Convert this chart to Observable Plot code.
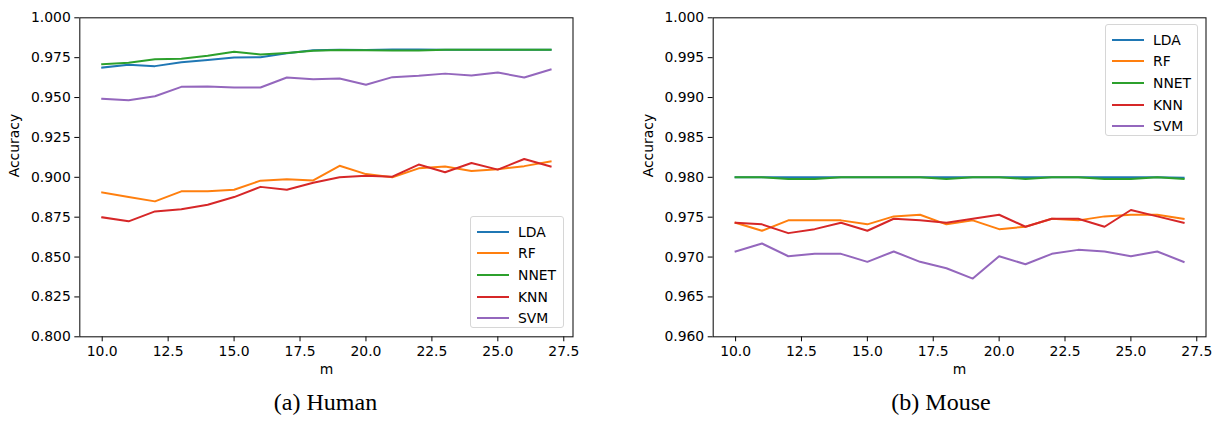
<!DOCTYPE html>
<html>
<head>
<meta charset="utf-8">
<script src="https://cdn.jsdelivr.net/npm/d3@7"></script>
<script src="https://cdn.jsdelivr.net/npm/@observablehq/plot@0.6"></script>
<style>
  html, body { margin: 0; padding: 0; background: #fff; }
  #root { position: relative; width: 1221px; height: 422px; overflow: hidden; }
  .panel { position: absolute; top: 0; }
  .legend { position: absolute; background: rgba(255,255,255,0.85); border: 1px solid #d6d6d6; border-radius: 3px; box-sizing: border-box; padding-top: 4px;
            font-family: "DejaVu Sans", sans-serif; font-size: 13.9px; color: #000; }
  .legend .row { height: 21.6px; display: flex; align-items: center; }
  .legend .sw { width: 32px; height: 2px; margin-left: 6px; margin-right: 9px; }
  .caption { position: absolute; font-family: "Liberation Serif", serif; font-size: 24px; color: #000; transform: translateX(-50%); white-space: nowrap; }
</style>
</head>
<body>
<div id="root"></div>
<script>
const models = ["LDA", "RF", "NNET", "KNN", "SVM"];
const colors = ["#1f77b4", "#ff7f0e", "#2ca02c", "#d62728", "#9467bd"];
const mValues = [10, 11, 12, 13, 14, 15, 16, 17, 18, 19, 20, 21, 22, 23, 24, 25, 26, 27];
const xTicks = [10, 12.5, 15, 17.5, 20, 22.5, 25, 27.5];

// Human
const humanLDA  = [0.9688,0.9705,0.9697,0.9722,0.9735,0.9751,0.9753,0.9778,0.9797,0.9800,0.9798,0.9802,0.9802,0.9800,0.9800,0.9800,0.9800,0.9800];
const humanRF   = [0.8905,0.8876,0.8849,0.8912,0.8912,0.8922,0.8979,0.8987,0.8980,0.9072,0.9020,0.9000,0.9056,0.9068,0.9040,0.9050,0.9070,0.9100];
const humanNNET = [0.9709,0.9718,0.9740,0.9743,0.9762,0.9787,0.9770,0.9780,0.9793,0.9798,0.9797,0.9795,0.9795,0.9800,0.9800,0.9800,0.9800,0.9800];
const humanKNN  = [0.8749,0.8724,0.8786,0.8800,0.8828,0.8876,0.8940,0.8922,0.8966,0.9000,0.9010,0.9004,0.9080,0.9032,0.9090,0.9048,0.9115,0.9068];
const humanSVM  = [0.9492,0.9483,0.9508,0.9567,0.9570,0.9563,0.9563,0.9626,0.9615,0.9620,0.9580,0.9628,0.9636,0.9650,0.9638,0.9657,0.9626,0.9676];
const humanYTicks = [0.800, 0.825, 0.850, 0.875, 0.900, 0.925, 0.950, 0.975, 1.000];

// Mouse
const mouseLDA  = [0.9800,0.9800,0.9800,0.9800,0.9800,0.9800,0.9800,0.9800,0.9800,0.9800,0.9800,0.9800,0.9800,0.9800,0.9800,0.9800,0.9800,0.97995];
const mouseRF   = [0.9743,0.9733,0.9746,0.9746,0.9746,0.9741,0.9751,0.9753,0.9741,0.9746,0.9735,0.9738,0.9748,0.9746,0.9751,0.9753,0.9753,0.9748];
const mouseNNET = [0.9800,0.9800,0.9798,0.9798,0.9800,0.9800,0.9800,0.9800,0.9798,0.9800,0.9800,0.9798,0.9800,0.9800,0.9798,0.9798,0.9800,0.9798];
const mouseKNN  = [0.9743,0.9741,0.9730,0.9735,0.9743,0.9733,0.9748,0.9746,0.9743,0.9748,0.9753,0.9738,0.9748,0.9748,0.9738,0.9759,0.9751,0.9743];
const mouseSVM  = [0.9707,0.9717,0.9701,0.9704,0.9704,0.9694,0.9707,0.9694,0.9686,0.9673,0.9701,0.9691,0.9704,0.9709,0.9707,0.9701,0.9707,0.9694];
const mouseYTicks = [0.960, 0.965, 0.970, 0.975, 0.980, 0.985, 0.990, 0.995, 1.000];

function toRows(series) {
  const rows = [];
  models.forEach((name, i) => series[i].forEach((v, j) => rows.push({model: name, m: mValues[j], v})));
  return rows;
}

const H = 390;
function makePlot({series, yDomain, yTicks, width, marginLeft, marginRight}) {
  return Plot.plot({
    width, height: H,
    marginLeft, marginRight, marginTop: 17.3, marginBottom: H - 336.3,
    style: {fontFamily: "DejaVu Sans, sans-serif", fontSize: "13.9px", color: "#000", background: "transparent", overflow: "visible"},
    x: {domain: [9.15, 27.85], label: null},
    y: {domain: yDomain, label: null},
    color: {domain: models, range: colors},
    marks: [
      Plot.axisX({ticks: xTicks, tickFormat: d3.format(".1f"), tickSize: 5, tickPadding: 4, label: null, stroke: "#000", strokeWidth: 1}),
      Plot.axisY({ticks: yTicks, tickFormat: d3.format(".3f"), tickSize: 5, tickPadding: 4, label: null, stroke: "#000", strokeWidth: 1}),
      Plot.line(toRows(series), {x: "m", y: "v", z: "model", stroke: "model", strokeWidth: 2, strokeLinejoin: "round", strokeLinecap: "square"}),
      Plot.frame({stroke: "#1a1a1a", strokeWidth: 1.1}),
      Plot.text(["Accuracy"], {text: d => d, frameAnchor: "left", dx: -65, rotate: -90, fontSize: 13.9, fill: "#000"}),
      Plot.text(["m"], {text: d => d, frameAnchor: "bottom", dy: 37, fontSize: 13.9, fill: "#000"})
    ]
  });
}

const root = document.getElementById("root");

function addPanel(left, plot) {
  const d = document.createElement("div");
  d.className = "panel";
  d.style.left = left + "px";
  d.appendChild(plot);
  root.appendChild(d);
}

function addLegend(left, top, width, height) {
  const lg = document.createElement("div");
  lg.className = "legend";
  Object.assign(lg.style, {left: left + "px", top: top + "px", width: width + "px", height: height + "px"});
  models.forEach((name, i) => {
    const row = document.createElement("div");
    row.className = "row";
    const sw = document.createElement("div");
    sw.className = "sw";
    sw.style.background = colors[i];
    const t = document.createElement("span");
    t.textContent = name;
    row.appendChild(sw); row.appendChild(t);
    lg.appendChild(row);
  });
  root.appendChild(lg);
}

function addCaption(cx, top, text) {
  const c = document.createElement("div");
  c.className = "caption";
  c.style.left = cx + "px";
  c.style.top = top + "px";
  c.textContent = text;
  root.appendChild(c);
}

addPanel(0, makePlot({
  series: [humanLDA, humanRF, humanNNET, humanKNN, humanSVM],
  yDomain: [0.8, 1.0], yTicks: humanYTicks,
  width: 610, marginLeft: 79.3, marginRight: 610 - 572.5
}));
addPanel(610, makePlot({
  series: [mouseLDA, mouseRF, mouseNNET, mouseKNN, mouseSVM],
  yDomain: [0.96, 1.0], yTicks: mouseYTicks,
  width: 611, marginLeft: 712.7 - 610, marginRight: 1221 - 1205.5
}));

addLegend(470, 216, 94, 112);
addLegend(1105, 24, 93, 112);

addCaption(325.5, 389, "(a) Human");
addCaption(941, 389, "(b) Mouse");
</script>
</body>
</html>
